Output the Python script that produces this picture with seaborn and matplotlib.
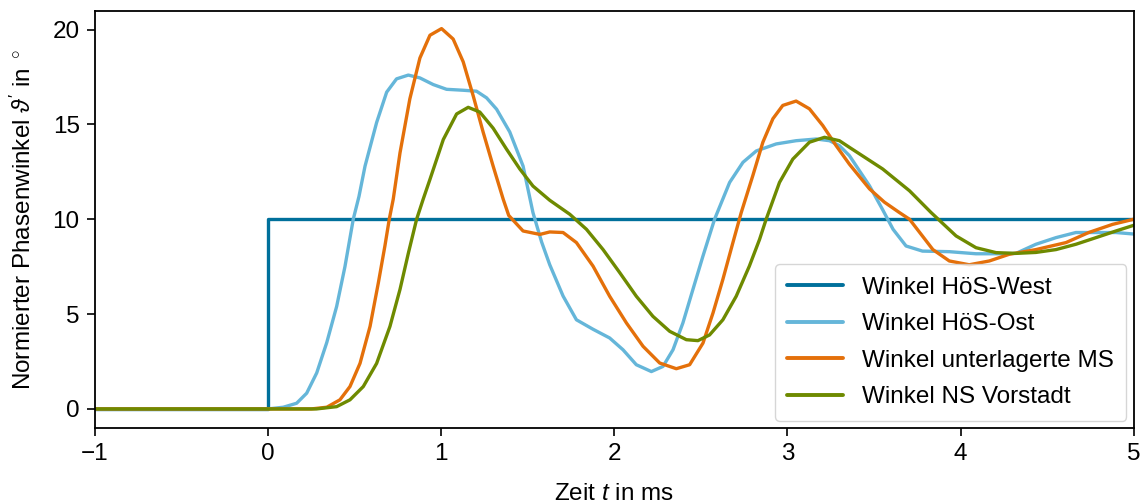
import pandas as pd
import matplotlib
matplotlib.use("Agg")
import matplotlib.pyplot as plt
import seaborn as sns

# Zeitachse in ms, Werte in Grad
t_west = [-1.0, 0.0, 0.0, 5.0]
v_west = [0.0, 0.0, 10.0, 10.0]

t_ost = [-1.0, 0.0, 0.088, 0.165, 0.223, 0.281, 0.339, 0.396, 0.444, 0.492, 0.525,
         0.56, 0.627, 0.685, 0.742, 0.81, 0.877, 0.954, 1.031, 1.127, 1.204, 1.262,
         1.32, 1.396, 1.473, 1.53, 1.58, 1.627, 1.704, 1.781, 1.877, 1.973, 2.05,
         2.127, 2.214, 2.281, 2.339, 2.396, 2.454, 2.512, 2.579, 2.666, 2.743, 2.82,
         2.935, 3.05, 3.166, 3.243, 3.30, 3.358, 3.474, 3.55, 3.61, 3.685, 3.78,
         3.935, 4.089, 4.224, 4.32, 4.435, 4.551, 4.666, 4.782, 4.897, 5.0]
v_ost = [0.0, 0.0, 0.09, 0.3, 0.83, 1.9, 3.5, 5.4, 7.5, 10.0, 11.2,
         12.8, 15.1, 16.7, 17.4, 17.6, 17.45, 17.1, 16.85, 16.8, 16.75, 16.4,
         15.8, 14.6, 12.8, 10.35, 8.8, 7.6, 5.95, 4.7, 4.2, 3.74, 3.12,
         2.33, 1.97, 2.24, 3.12, 4.53, 6.3, 8.06, 10.0, 11.94, 13.0, 13.6,
         13.97, 14.14, 14.23, 14.14, 13.88, 13.35, 11.76, 10.5, 9.47, 8.59, 8.32,
         8.29, 8.18, 8.18, 8.2, 8.68, 9.03, 9.3, 9.3, 9.3, 9.22]

t_ms = [-1.0, 0.25, 0.339, 0.415, 0.473, 0.531, 0.589, 0.637, 0.675, 0.70, 0.723,
        0.762, 0.819, 0.877, 0.935, 1.002, 1.069, 1.127, 1.185, 1.242, 1.30, 1.358,
        1.39, 1.473, 1.57, 1.627, 1.704, 1.781, 1.877, 1.973, 2.07, 2.166, 2.262,
        2.358, 2.435, 2.512, 2.57, 2.627, 2.685, 2.733, 2.80, 2.858, 2.916, 2.973,
        3.05, 3.127, 3.204, 3.281, 3.358, 3.474, 3.56, 3.647, 3.705, 3.84, 3.935,
        4.05, 4.166, 4.28, 4.435, 4.609, 4.74, 4.878, 5.0]
v_ms = [0.0, 0.0, 0.09, 0.48, 1.18, 2.4, 4.35, 6.65, 8.6, 10.0, 11.06,
        13.5, 16.35, 18.5, 19.7, 20.05, 19.5, 18.3, 16.5, 14.6, 12.8, 11.06,
        10.2, 9.38, 9.2, 9.33, 9.3, 8.77, 7.53, 5.94, 4.53, 3.3, 2.42,
        2.12, 2.33, 3.47, 5.06, 6.83, 8.77, 10.35, 12.3, 14.06, 15.3, 16.0,
        16.23, 15.82, 14.94, 13.88, 12.9, 11.6, 10.9, 10.35, 10.0, 8.4, 7.8,
        7.6, 7.8, 8.15, 8.4, 8.77, 9.3, 9.73, 10.0]

t_ns = [-1.0, 0.28, 0.396, 0.473, 0.55, 0.627, 0.704, 0.762, 0.81, 0.858, 0.896,
        0.935, 1.012, 1.089, 1.156, 1.223, 1.30, 1.377, 1.454, 1.53, 1.627, 1.743,
        1.839, 1.935, 2.03, 2.127, 2.223, 2.32, 2.416, 2.483, 2.55, 2.627, 2.704,
        2.78, 2.839, 2.877, 2.954, 3.031, 3.127, 3.214, 3.30, 3.358, 3.55, 3.705,
        3.83, 3.974, 4.089, 4.205, 4.32, 4.435, 4.551, 4.666, 4.782, 4.897, 5.0]
v_ns = [0.0, 0.0, 0.12, 0.48, 1.18, 2.4, 4.35, 6.3, 8.2, 10.0, 11.06,
        12.1, 14.2, 15.55, 15.9, 15.65, 14.8, 13.7, 12.65, 11.75, 11.0, 10.26,
        9.47, 8.4, 7.2, 5.94, 4.88, 4.09, 3.65, 3.6, 3.9, 4.7, 5.94,
        7.53, 8.94, 10.0, 11.94, 13.17, 14.06, 14.32, 14.14, 13.79, 12.65, 11.5,
        10.35, 9.12, 8.5, 8.24, 8.2, 8.25, 8.4, 8.68, 9.03, 9.38, 9.68]

labels = ["Winkel HöS-West", "Winkel HöS-Ost", "Winkel unterlagerte MS", "Winkel NS Vorstadt"]
colors = ["#00709B", "#65B6D9", "#E4700A", "#6E8A00"]

df = pd.concat([
    pd.DataFrame({"t": t, "v": v, "Signal": lab})
    for t, v, lab in zip([t_west, t_ost, t_ms, t_ns], [v_west, v_ost, v_ms, v_ns], labels)
])

sns.set_theme(style="ticks")
plt.rcParams["font.family"] = ["Liberation Sans", "DejaVu Sans"]
plt.rcParams["mathtext.fontset"] = "custom"
plt.rcParams["mathtext.rm"] = "Liberation Sans"
plt.rcParams["mathtext.it"] = "Liberation Sans:italic"
plt.rcParams["axes.unicode_minus"] = True
plt.rcParams["text.color"] = "black"

fs = 17.5
fig, ax = plt.subplots(figsize=(11.44, 5.04), dpi=100)
fig.subplots_adjust(left=0.083, right=0.991, top=0.979, bottom=0.151)

sns.lineplot(data=df, x="t", y="v", hue="Signal", palette=dict(zip(labels, colors)),
             estimator=None, sort=False, linewidth=2.4, ax=ax)

ax.set_xlim(-1, 5)
ax.set_ylim(-1, 21)
ax.set_xticks(range(-1, 6))
ax.set_yticks([0, 5, 10, 15, 20])
ax.tick_params(labelsize=fs, width=1.2, length=6, colors="black", pad=5)
for s in ax.spines.values():
    s.set_visible(True)
    s.set_color("black")
    s.set_linewidth(1.3)

ax.set_xlabel(r"Zeit $t$ in ms", fontsize=fs, color="black", labelpad=13)
ax.set_ylabel(r"Normierter Phasenwinkel $\vartheta'$ in $^\circ$", fontsize=fs,
              color="black", labelpad=12)

handles, labs = ax.get_legend_handles_labels()
leg = ax.legend(handles, labs, loc="lower right", fontsize=fs, handlelength=2.3,
                handletextpad=0.8, labelspacing=0.6, frameon=True, fancybox=True,
                framealpha=0.8, borderaxespad=0.3, borderpad=0.5)
leg.get_frame().set_edgecolor("#cccccc")
for txt in leg.get_texts():
    txt.set_color("black")
for h in leg.get_lines():
    h.set_linewidth(2.8)

plt.savefig("out.png", dpi=100)
